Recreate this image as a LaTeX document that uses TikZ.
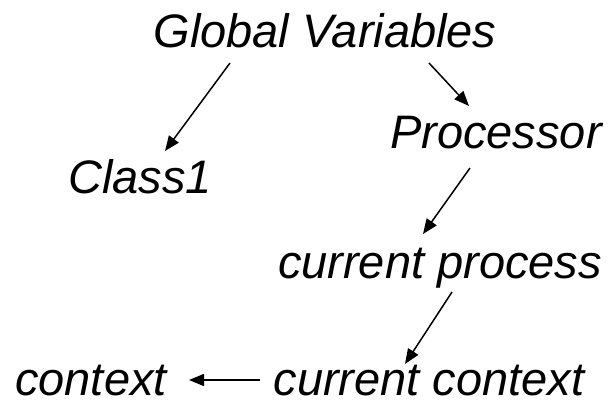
\documentclass[tikz,border=0pt]{standalone}
\usepackage{fontspec}
\setmainfont{Liberation Sans}
\usetikzlibrary{arrows.meta}
\begin{document}
\begin{tikzpicture}[x=1pt,y=-1pt,
  lbl/.style={font=\fontsize{47}{56}\selectfont\itshape, inner sep=0pt, anchor=base},
  conn/.style={line width=1.5pt, -{Triangle[length=15pt,width=12pt]}}]
\useasboundingbox (0,0) rectangle (610,405);
\node[lbl] (gv) at (325,47) {Global Variables};
\node[lbl] (proc) at (496,148) {Processor};
\node[lbl] (cls) at (140,193) {Class1};
\node[lbl] (cp) at (440,278) {current process};
\node[lbl] (ctx) at (91,395) {context};
\node[lbl] (cc) at (429,395) {current context};
\coordinate (a1s) at (230,63); \coordinate (a1e) at (165,151);
\coordinate (a2s) at (429,63); \coordinate (a2e) at (469,106);
\coordinate (a3s) at (470,168); \coordinate (a3e) at (423,234);
\coordinate (a4s) at (452,292); \coordinate (a4e) at (405,364);
\coordinate (a5s) at (260,380); \coordinate (a5e) at (189,380);
\draw[conn] (a1s) -- (a1e);
\draw[conn] (a2s) -- (a2e);
\draw[conn] (a3s) -- (a3e);
\draw[conn] (a4s) -- (a4e);
\draw[conn] (a5s) -- (a5e);
\end{tikzpicture}
\end{document}
